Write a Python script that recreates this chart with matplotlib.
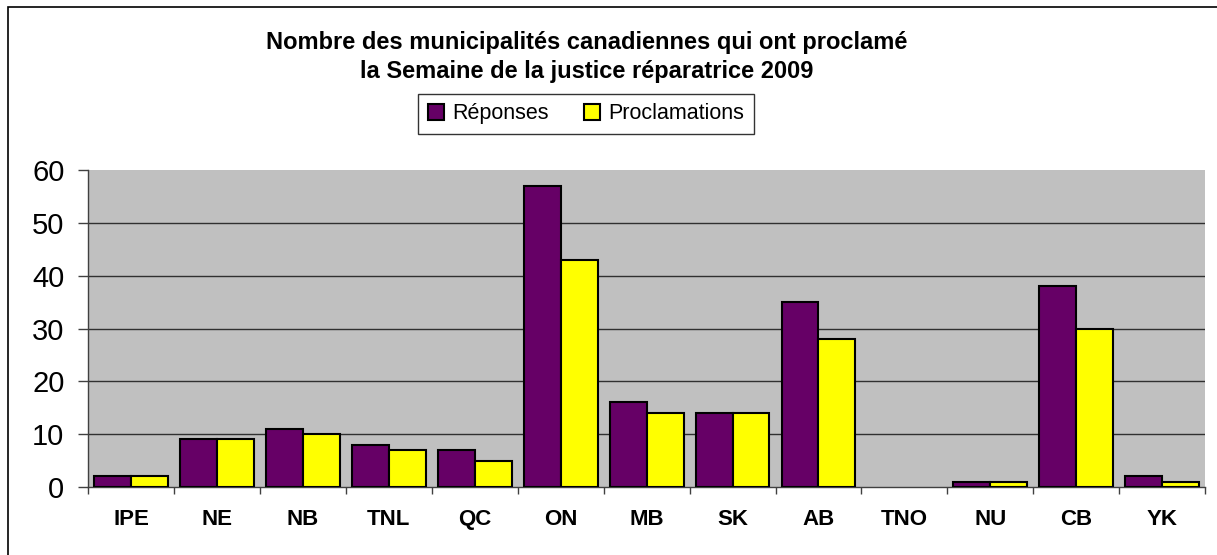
import matplotlib
matplotlib.use("Agg")
import matplotlib.pyplot as plt
import numpy as np

plt.rcParams["font.family"] = ["Liberation Sans", "DejaVu Sans"]

provinces = ["IPE", "NE", "NB", "TNL", "QC", "ON", "MB", "SK", "AB", "TNO", "NU", "CB", "YK"]
reponses = [2, 9, 11, 8, 7, 57, 16, 14, 35, 0, 1, 38, 2]
proclamations = [2, 9, 10, 7, 5, 43, 14, 14, 28, 0, 1, 30, 1]

fig = plt.figure(figsize=(12.17, 5.55), dpi=100)
# outer chart frame (right and bottom edges fall outside the image)
fig.patches.append(plt.Rectangle((0.0065, -0.05), 1.1, 1.037, transform=fig.transFigure,
                                 fill=False, edgecolor="black", linewidth=1.2))

ax = fig.add_axes([0.0723, 0.1225, 0.918, 0.5712])
ax.set_facecolor("#C0C0C0")

x = np.arange(len(provinces))
w = 0.43
lw1 = [1.5 if v > 0 else 0 for v in reponses]
lw2 = [1.5 if v > 0 else 0 for v in proclamations]
b1 = ax.bar(x - w / 2, reponses, w, color="#660066", edgecolor="black", linewidth=lw1,
            label="Réponses", zorder=3)
b2 = ax.bar(x + w / 2, proclamations, w, color="#FFFF00", edgecolor="black", linewidth=lw2,
            label="Proclamations", zorder=3)

ax.set_xlim(-0.5, len(provinces) - 0.5)
ax.set_ylim(0, 60)
ax.set_yticks(range(0, 61, 10))
ax.tick_params(axis="y", labelsize=21, length=7, width=1, color="#404040", pad=10)
for yv in range(10, 60, 10):
    ax.axhline(yv, color="#303030", linewidth=1, zorder=1)

ax.set_xticks(x)
ax.set_xticklabels(provinces, fontsize=16, fontweight="bold")
ax.tick_params(axis="x", which="major", length=0, pad=16)
ax.set_xticks(np.arange(-0.5, len(provinces)), minor=True)
ax.tick_params(axis="x", which="minor", length=5, width=1, color="#404040")

for s in ["top", "right"]:
    ax.spines[s].set_visible(False)
for s in ["left", "bottom"]:
    ax.spines[s].set_color("#404040")
    ax.spines[s].set_linewidth(1)

fig.text(0.482, 0.897, "Nombre des municipalités canadiennes qui ont proclamé\nla Semaine de la justice réparatrice 2009",
         ha="center", va="center", fontsize=17, fontweight="bold", linespacing=1.3)

leg = fig.legend(handles=[b1, b2], loc="center", bbox_to_anchor=(0.4815, 0.7946), ncol=2,
                 fontsize=15.5, frameon=True, fancybox=False, edgecolor="black",
                 handlelength=0.75, handleheight=0.75, handletextpad=0.4, columnspacing=1.6,
                 borderpad=0.45)
leg.get_frame().set_linewidth(1)
for h in leg.legend_handles:
    h.set_linewidth(1.5)

fig.savefig("out.png", dpi=100)
